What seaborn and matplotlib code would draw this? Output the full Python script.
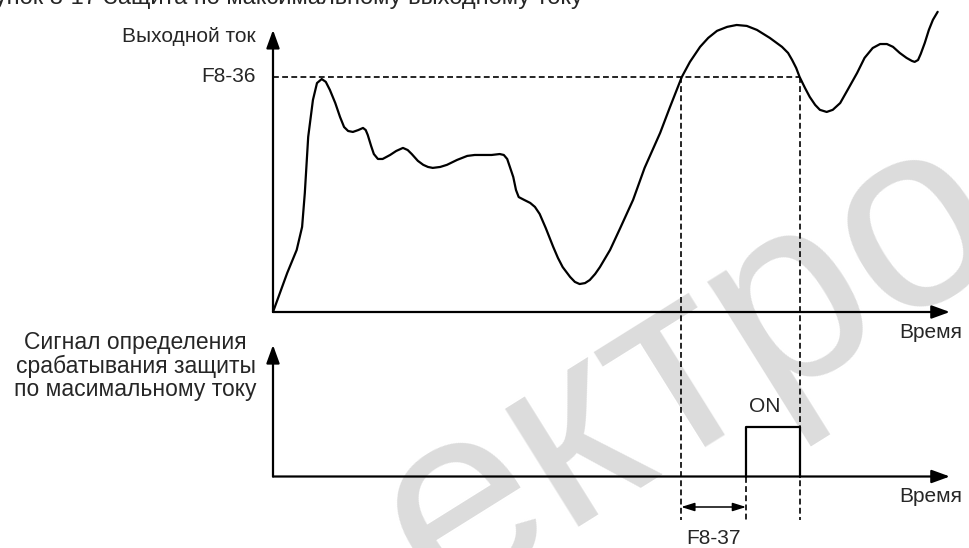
import matplotlib
matplotlib.use("Agg")
import numpy as np
import pandas as pd
import seaborn as sns
from matplotlib import pyplot as plt

sns.set_style("white")
plt.rcParams["font.family"] = ["Liberation Sans", "DejaVu Sans"]

# output current, % of F8-36 level, vs time (arbitrary units, 0..100)
time = [0.0, 2.1, 3.5, 4.3, 4.7, 5.2, 5.9, 6.5, 7.2, 7.8, 8.4, 9.2, 9.9, 10.5, 11.1, 11.8,
        12.6, 13.3, 13.7, 14.0, 14.5, 14.9, 15.5, 16.2, 17.3, 18.2, 19.2, 19.9, 20.5, 21.4,
        22.2, 22.9, 23.6, 24.7, 25.7, 27.2, 28.7, 29.8, 31.0, 32.3, 33.5, 34.1, 34.6, 35.0,
        35.5, 35.9, 36.3, 37.1, 38.0, 38.7, 39.4, 40.3, 41.4, 42.1, 42.8, 43.9, 44.6, 45.3,
        46.1, 46.8, 47.6, 48.3, 49.8, 51.3, 53.2, 54.9, 57.2, 58.6, 60.4, 61.6, 63.1, 64.3,
        65.6, 67.1, 68.5, 70.0, 71.5, 73.4, 75.2, 76.1, 76.7, 77.3, 77.8, 78.6, 79.3, 80.1,
        80.8, 81.8, 82.7, 83.8, 84.9, 86.3, 87.4, 88.6, 89.7, 90.7, 91.6, 92.6, 93.6, 94.4,
        94.8, 95.3, 95.7, 96.3, 96.9, 97.5, 98.2]
current = [0.0, 16.6, 26.4, 36.2, 50.6, 74.5, 90.2, 97.4, 99.1, 97.9, 94.5, 88.9, 83.0, 78.7,
           77.0, 76.6, 77.4, 78.3, 77.4, 75.3, 70.6, 67.2, 65.1, 65.1, 66.8, 68.5, 69.8, 68.9,
           67.2, 64.3, 62.6, 61.7, 61.3, 61.7, 62.6, 64.7, 66.4, 66.8, 66.8, 66.8, 67.2, 66.8,
           65.1, 61.7, 57.4, 51.9, 48.9, 47.7, 46.4, 44.7, 41.7, 35.7, 27.7, 23.0, 19.1, 14.9,
           12.8, 11.9, 12.3, 13.6, 16.2, 19.1, 26.4, 35.7, 47.7, 61.3, 76.2, 86.8, 100.0, 106.4,
           112.8, 116.6, 119.6, 121.3, 122.1, 121.7, 120.0, 116.6, 112.8, 110.2, 107.2, 103.8,
           100.0, 95.3, 91.5, 88.1, 86.0, 85.1, 86.0, 88.9, 94.5, 101.7, 108.1, 112.3, 114.0,
           114.0, 112.8, 110.2, 108.1, 106.8, 106.4, 107.2, 109.8, 114.5, 120.0, 124.3, 127.7]

F8_36 = 100.0          # protection level
t_cross_up = 60.3      # current rises above F8-36
t_cross_down = 77.8    # current falls below F8-36
F8_37 = 9.6            # detection delay
t_on = t_cross_up + F8_37

sig_time = [t_on, t_on, t_cross_down, t_cross_down]
sig_value = [0, 1, 1, 0]

W, H = 969, 548


def fx(px):
    return px / W


def fy(py):
    return 1 - py / H


fig = plt.figure(figsize=(W / 100, H / 100), dpi=100)

ax_top = fig.add_axes([fx(273), fy(312), fx(960) - fx(273), fy(5) - fy(312)])
ax_bot = fig.add_axes([fx(273), fy(476.5), fx(960) - fx(273), fy(340) - fy(476.5)])
for ax in (ax_top, ax_bot):
    ax.set_facecolor("none")
    ax.set_axis_off()
ax_top.set_xlim(0, 101.5)
ax_top.set_ylim(0, 130.6)
ax_bot.set_xlim(0, 101.5)
ax_bot.set_ylim(0, 2.73)

arrow = dict(arrowstyle="-|>,head_length=1.1,head_width=0.4", lw=1.6, color="black",
             shrinkA=0, shrinkB=0, mutation_scale=10)

# axes with arrows
ax_top.annotate("", xy=(100, 0), xytext=(0, 0), arrowprops=arrow, annotation_clip=False)
ax_top.annotate("", xy=(0, 120), xytext=(0, 0), arrowprops=arrow, annotation_clip=False)
ax_bot.annotate("", xy=(100, 0), xytext=(0, 0), arrowprops=arrow, annotation_clip=False)
ax_bot.annotate("", xy=(0, 2.63), xytext=(0, 0), arrowprops=arrow, annotation_clip=False)

df = pd.DataFrame({"t": time, "i": current})
sns.lineplot(data=df, x="t", y="i", sort=False, estimator=None, color="black", lw=1.6,
             ax=ax_top, clip_on=False, zorder=5, solid_joinstyle="round")

dash = dict(color="black", lw=1.2, ls=(0, (3.5, 2)), clip_on=False)
ax_top.plot([0, t_cross_down], [F8_36, F8_36], **dash)
ax_top.plot([t_cross_up, t_cross_up], [F8_36, -88.5], **dash)
ax_top.plot([t_cross_down, t_cross_down], [F8_36, -88.5], **dash)
ax_bot.plot([t_on, t_on], [0, -0.87], **dash)

sns.lineplot(x=sig_time, y=sig_value, sort=False, estimator=None, color="black", lw=1.6,
             ax=ax_bot, clip_on=False, zorder=5)

ax_bot.annotate("", xy=(t_on, -0.61), xytext=(t_cross_up, -0.61), annotation_clip=False,
                arrowprops=dict(arrowstyle="<|-|>,head_length=0.8,head_width=0.25", lw=1.1,
                                color="black", shrinkA=0, shrinkB=0, mutation_scale=10))

fs = 15
fig.text(fx(583), fy(4), "Рисунок 8-17 Защита по максимальному выходному току",
         ha="right", va="baseline", fontsize=17)
fig.text(fx(256), fy(36), "Выходной ток", ha="right", va="center", fontsize=fs)
fig.text(fx(256), fy(77), "F8-36", ha="right", va="center", fontsize=fs)
fig.text(fx(135.5), fy(366), "Сигнал определения\nсрабатывания защиты\nпо масимальному току",
         ha="center", va="center", multialignment="center", fontsize=16.5, linespacing=1.05)
fig.text(fx(962), fy(333), "Время", ha="right", va="center", fontsize=fs)
fig.text(fx(962), fy(497), "Время", ha="right", va="center", fontsize=fs)
fig.text(fx(765), fy(407), "ON", ha="center", va="center", fontsize=fs)
fig.text(fx(713), fy(538), "F8-37", ha="center", va="center", fontsize=fs)

# watermark
fig.text(fx(691), fy(370), "ектро", ha="center", va="center", fontsize=190,
         rotation=32, color="#dcdcdc", zorder=-1)

fig.savefig("out.png", dpi=100, facecolor="white")
